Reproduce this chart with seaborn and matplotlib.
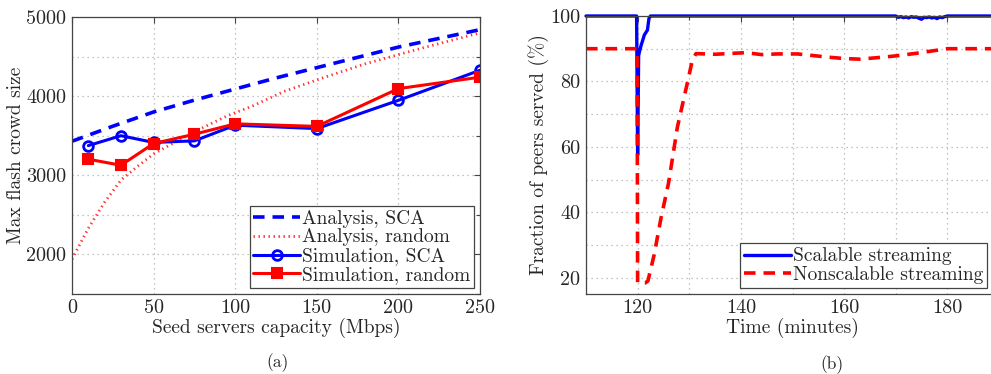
import numpy as np
import pandas as pd
import matplotlib
matplotlib.use("Agg")
import matplotlib.pyplot as plt
from matplotlib.ticker import MultipleLocator
import seaborn as sns

# ---------------- data (a) ----------------
ana_sca_x = [0, 25, 50, 75, 100, 125, 150, 175, 200, 225, 250]
ana_sca_y = [3430, 3620, 3800, 3950, 4090, 4230, 4360, 4490, 4620, 4730, 4840]

ana_rnd_x = [0, 10, 20, 30, 40, 50, 65, 80, 95, 110, 130, 155, 180, 215, 250]
ana_rnd_y = [1940, 2330, 2660, 2940, 3110, 3270, 3440, 3600, 3750, 3870, 4060, 4240, 4410, 4610, 4800]

sim_x = [10, 30, 50, 75, 100, 150, 200, 250]
sim_sca_y = [3375, 3500, 3415, 3435, 3633, 3590, 3947, 4327]
sim_rnd_y = [3203, 3127, 3401, 3519, 3650, 3618, 4095, 4240]

# ---------------- data (b) ----------------
t_scal = [110, 119.8, 120.0, 120.2, 120.6, 121.3, 121.9, 122.2, 122.5,
          170, 170.5, 171, 171.5, 172, 172.5, 173, 173.5, 174, 174.5, 175,
          175.5, 176, 176.5, 177, 177.5, 178, 178.5, 179, 179.5, 180, 190]
v_scal = [100, 100, 57.5, 88, 90.6, 94.2, 95.7, 99.3, 100,
          100, 99.6, 99.8, 99.5, 99.7, 99.4, 99.8, 99.6, 99.7, 99.3, 99.0,
          99.6, 99.5, 99.7, 99.4, 99.6, 99.2, 99.7, 99.5, 99.8, 100, 100]

t_nons = [110, 119.9, 120.0, 121.5, 122, 123.2, 124.5, 126, 127.7, 129.7, 130.6, 131.3,
          135, 141, 144, 147, 151, 154, 157, 160, 163, 166, 170, 174, 177, 180, 190]
v_nons = [90, 90, 18.4, 18.4, 19, 27, 38, 49, 66, 80, 86.5, 88.5,
          88.3, 88.8, 88.2, 88.4, 88.4, 87.9, 87.4, 87.0, 86.8, 87.2, 87.8, 88.6, 89.3, 90.0, 90.0]

sns.set_style("white")
plt.rcParams['font.family'] = ['cmr10', 'DejaVu Serif']
plt.rcParams['axes.unicode_minus'] = False
plt.rcParams['mathtext.fontset'] = 'cm'

fig = plt.figure(figsize=(9.91, 3.74), dpi=100)
W, H = 991, 374
axA = fig.add_axes([72/W, (H-294)/H, (480-72)/W, (294-17)/H])
axB = fig.add_axes([586/W, (H-294)/H, (999-586)/W, (294-16)/H])

BLUE = '#0000ff'
RED = '#ff0000'
FS = 14
TFS = 14.5

def style_axes(ax):
    ax.grid(True, which='both', linestyle=(0, (1, 3)), color='#b0b0b0', linewidth=0.9)
    ax.tick_params(which='both', direction='in', top=True, right=True, length=4,
                   width=0.8, color='#444444', labelsize=TFS, pad=4)
    ax.tick_params(which='minor', length=3)
    for s in ax.spines.values():
        s.set_color('#444444')
        s.set_linewidth(0.9)
    ax.set_axisbelow(True)

# ---- (a) ----
sns.lineplot(x=ana_sca_x, y=ana_sca_y, ax=axA, color=BLUE, linewidth=2.6,
             linestyle=(0, (3.2, 2.2)), label='Analysis, SCA')
sns.lineplot(x=ana_rnd_x, y=ana_rnd_y, ax=axA, color=RED, linewidth=2.0,
             linestyle=(0, (0.5, 1.3)), label='Analysis, random', alpha=0.8)
sns.lineplot(x=sim_x, y=sim_sca_y, ax=axA, color=BLUE, linewidth=2.2, marker='o',
             markersize=7, markerfacecolor='none', markeredgecolor=BLUE,
             markeredgewidth=2, label='Simulation, SCA')
sns.lineplot(x=sim_x, y=sim_rnd_y, ax=axA, color=RED, linewidth=2.2, marker='s',
             markersize=6.5, markerfacecolor=RED, markeredgecolor=RED,
             markeredgewidth=1.5, label='Simulation, random')
axA.set_xlim(0, 250)
axA.set_ylim(1500, 5000)
axA.xaxis.set_major_locator(MultipleLocator(50))
axA.yaxis.set_major_locator(MultipleLocator(1000))
axA.yaxis.set_minor_locator(MultipleLocator(500))
style_axes(axA)
axA.set_xlabel('Seed servers capacity (Mbps)', fontsize=FS, labelpad=0)
axA.set_ylabel('Max flash crowd size', fontsize=FS, labelpad=1)
legA = axA.legend(loc='lower right', fontsize=FS, frameon=True, fancybox=False,
                  edgecolor='#444444', framealpha=1, borderpad=0.2,
                  labelspacing=0.05, handletextpad=0.1, handlelength=2.4,
                  borderaxespad=0.3)
legA.get_frame().set_linewidth(0.9)

# ---- (b) ----
sns.lineplot(x=t_scal, y=v_scal, ax=axB, color=BLUE, linewidth=2.4,
             label='Scalable streaming', estimator=None, sort=False, clip_on=False)
sns.lineplot(x=t_nons, y=v_nons, ax=axB, color=RED, linewidth=2.6,
             linestyle=(0, (3.2, 2.2)), label='Nonscalable streaming',
             estimator=None, sort=False)
axB.set_xlim(110, 190)
axB.set_ylim(15, 100)
axB.xaxis.set_major_locator(MultipleLocator(20))
axB.xaxis.set_minor_locator(MultipleLocator(10))
axB.yaxis.set_major_locator(MultipleLocator(20))
axB.yaxis.set_minor_locator(MultipleLocator(10))
style_axes(axB)
axB.set_xlabel('Time (minutes)', fontsize=FS, labelpad=0)
axB.set_ylabel('Fraction of peers served (%)', fontsize=FS, labelpad=1)
legB = axB.legend(loc='lower right', fontsize=FS, frameon=True, fancybox=False,
                  edgecolor='#444444', framealpha=1, borderpad=0.2,
                  labelspacing=0.05, handletextpad=0.1, handlelength=2.4,
                  borderaxespad=0.3, bbox_to_anchor=(0.985, 0.0))
legB.get_frame().set_linewidth(0.9)

fig.text(278/W, 1 - 363/H, '(a)', ha='center', va='center', fontsize=12.5)
fig.text(832/W, 1 - 365/H, '(b)', ha='center', va='center', fontsize=12.5)

fig.savefig('out.png', dpi=100)
